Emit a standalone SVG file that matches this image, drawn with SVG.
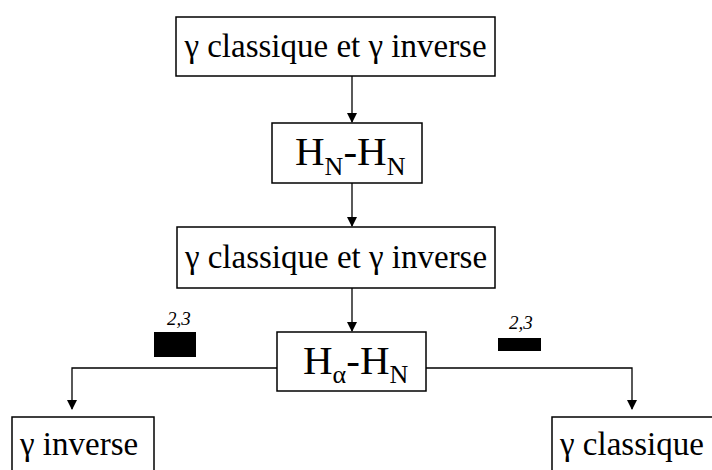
<svg xmlns="http://www.w3.org/2000/svg" width="712" height="470" viewBox="0 0 712 470">
<defs>
<marker id="arr" markerWidth="10" markerHeight="10" refX="9" refY="5" orient="auto" markerUnits="userSpaceOnUse">
<path d="M0,0 L10,5 L0,10 Z" fill="#000"/>
</marker>
<style>
.box{fill:#fff;stroke:#000;stroke-width:1.5}
.t{font-family:'Liberation Serif','Times New Roman',serif;fill:#000}
.c{stroke:#000;stroke-width:1.3;fill:none}
.n{font-family:'Liberation Serif','Times New Roman',serif;font-style:italic;font-size:19px;fill:#000}
</style>
</defs>
<rect width="712" height="470" fill="#fff"/>
<g id="connectors">
<line class="c" x1="352" y1="76" x2="352" y2="122" marker-end="url(#arr)"/>
<line class="c" x1="352" y1="183" x2="352" y2="226" marker-end="url(#arr)"/>
<line class="c" x1="352" y1="288" x2="352" y2="331" marker-end="url(#arr)"/>
<polyline class="c" points="277,368 72,368 72,409" marker-end="url(#arr)"/>
<polyline class="c" points="426,368 632,368 632,409" marker-end="url(#arr)"/>
</g>
<g id="n1">
<rect class="box" x="176" y="17" width="319" height="59"/>
<text class="t" x="335.5" y="57" font-size="33" text-anchor="middle">γ classique et γ inverse</text>
</g>
<g id="n2">
<rect class="box" x="272" y="123" width="150" height="60"/>
<text class="t" x="295" y="165" font-size="41">H<tspan font-size="26" dy="10">N</tspan><tspan dy="-10">-H</tspan><tspan font-size="26" dy="10">N</tspan></text>
</g>
<g id="n3">
<rect class="box" x="177" y="227" width="318" height="61"/>
<text class="t" x="336" y="268" font-size="33" text-anchor="middle">γ classique et γ inverse</text>
</g>
<g id="n4">
<rect class="box" x="277" y="332" width="149" height="59"/>
<text class="t" x="303" y="374" font-size="41">H<tspan font-size="26" dy="9">α</tspan><tspan dy="-9">-H</tspan><tspan font-size="26" dy="9">N</tspan></text>
</g>
<g id="n5">
<rect class="box" x="12" y="417" width="142" height="70"/>
<text class="t" x="20" y="455" font-size="33">γ inverse</text>
</g>
<g id="n6">
<rect class="box" x="552" y="417" width="180" height="70"/>
<text class="t" x="560" y="455" font-size="33">γ classique</text>
</g>
<g id="mark1">
<rect x="154" y="332" width="42" height="25" fill="#000"/>
<text class="n" x="167" y="325">2,3</text>
</g>
<g id="mark2">
<rect x="498" y="338" width="43" height="13" fill="#000"/>
<text class="n" x="509" y="329">2,3</text>
</g>
</svg>
